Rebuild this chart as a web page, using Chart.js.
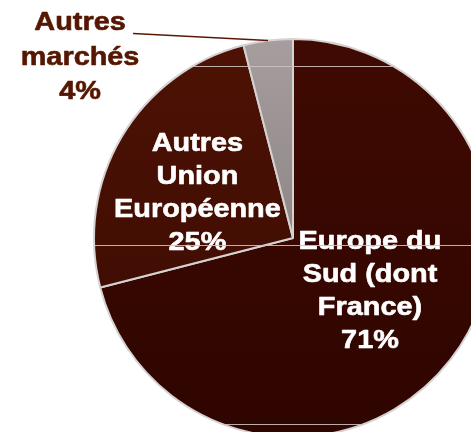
<!DOCTYPE html>
<html><head><meta charset="utf-8">
<script src="https://cdn.jsdelivr.net/npm/chart.js@4/dist/chart.umd.min.js"></script>
<style>
html,body{margin:0;padding:0;width:471px;height:432px;overflow:hidden;background:#fff;}
#wrap{position:absolute;left:0;top:0;width:586px;height:476px;}
</style></head><body>
<div id="wrap"><canvas id="c" width="586" height="476"></canvas></div>
<script>
// ---- data ----
const categories = ['Europe du Sud (dont France)', 'Autres Union Européenne', 'Autres marchés'];
const shares = [71, 25, 4];
const labelLines = [['Europe du', 'Sud (dont', 'France)'], ['Autres', 'Union', 'Européenne'], ['Autres', 'marchés']];

// ---- styles ----
const sliceTop = ['#3f0a02', '#4d1204', '#a69e9e'];
const sliceBottom = ['#2f0500', '#3a0a02', '#787070'];
const labelPlace = [
  { frac: 0.471, dAngle: -3.0 },
  { frac: 0.53, dAngle: -5.6 },
  { outside: true, lineDx: -135, lineDy: -7, textDx: -188, textDy: 17 }
];

function sliceFill(ctx) {
  const chart = ctx.chart;
  const area = chart.chartArea;
  const i = ctx.dataIndex;
  if (!area) return sliceTop[i];
  const cy = (area.top + area.bottom) / 2;
  const r = chart.options.radius;
  const g = chart.ctx.createLinearGradient(0, cy - r, 0, cy + r);
  g.addColorStop(0, sliceTop[i]);
  g.addColorStop(1, sliceBottom[i]);
  return g;
}

function drawLines(c, lines, x, y, lh, color) {
  c.save();
  c.fillStyle = color;
  c.strokeStyle = color;
  c.lineWidth = 0.6;
  c.lineJoin = 'round';
  c.font = 'bold 26px "Liberation Sans", Arial, sans-serif';
  c.textAlign = 'center';
  c.textBaseline = 'middle';
  const n = lines.length;
  lines.forEach((t, k) => {
    c.save();
    c.translate(x, y + (k - (n - 1) / 2) * lh);
    c.scale(1.11, 1);
    c.fillText(t, 0, 0);
    c.strokeText(t, 0, 0);
    c.restore();
  });
  c.restore();
}

const labelPlugin = {
  id: 'sliceLabels',
  afterDatasetsDraw(chart) {
    const c = chart.ctx;
    const arcs = chart.getDatasetMeta(0).data;
    arcs.forEach((arc, i) => {
      const p = labelPlace[i];
      const mid = (arc.startAngle + arc.endAngle) / 2;
      const lines = labelLines[i].concat([shares[i] + '%']);
      if (p.outside) {
        const ex = arc.x + Math.cos(mid) * arc.outerRadius;
        const ey = arc.y + Math.sin(mid) * arc.outerRadius;
        c.save();
        c.strokeStyle = '#5a1804';
        c.lineWidth = 1.5;
        c.beginPath();
        c.moveTo(ex, ey);
        c.lineTo(ex + p.lineDx, ey + p.lineDy);
        c.stroke();
        c.restore();
        drawLines(c, lines, ex + p.textDx, ey + p.textDy, 34.5, '#561702');
      } else {
        const a = mid + p.dAngle * Math.PI / 180;
        const x = arc.x + Math.cos(a) * arc.outerRadius * p.frac;
        const y = arc.y + Math.sin(a) * arc.outerRadius * p.frac;
        drawLines(c, lines, x, y, 33, '#ffffff');
      }
    });
    // faint horizontal texture lines inside the pie
    const arc0 = arcs[0];
    const R = arc0.outerRadius;
    c.save();
    c.beginPath();
    c.arc(arc0.x, arc0.y, R, 0, Math.PI * 2);
    c.clip();
    c.strokeStyle = 'rgba(205,192,188,0.9)';
    c.lineWidth = 1;
    [-0.865, 0.035, 0.935].forEach(f => {
      const y = Math.round(arc0.y + f * R) + 0.5;
      c.beginPath();
      c.moveTo(arc0.x - R, y);
      c.lineTo(arc0.x + R, y);
      c.stroke();
    });
    c.restore();
  }
};

new Chart(document.getElementById('c'), {
  type: 'pie',
  data: {
    labels: categories,
    datasets: [{
      data: shares,
      backgroundColor: sliceFill,
      borderColor: '#d6d2d2',
      borderWidth: 2
    }]
  },
  options: {
    responsive: false,
    animation: false,
    radius: 199,
    layout: { padding: 0 },
    plugins: { legend: { display: false }, tooltip: { enabled: false } }
  },
  plugins: [labelPlugin]
});
</script>
</body></html>
